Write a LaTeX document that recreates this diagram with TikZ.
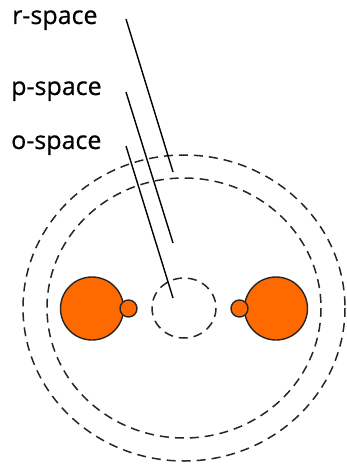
\documentclass[tikz,border=0pt]{standalone}
\usepackage{fontspec}
\setmainfont{Open Sans}
\newfontfamily\labelfont{Open Sans}[FakeBold=0.6]
\usetikzlibrary{positioning}
\definecolor{orbit}{RGB}{255,106,0}

\begin{document}
\begin{tikzpicture}[x=1pt, y=-1pt,
  spacelabel/.style={anchor=base west, inner sep=0pt, font=\labelfont\fontsize{25}{30}\selectfont},
  shell/.style={draw=black!85, dash pattern=on 9pt off 6pt, line width=1.5pt},
  lobe/.style={draw=black!85, fill=orbit, line width=1.4pt},
  pointer/.style={line width=1.4pt}]
  \useasboundingbox (0,0) rectangle (346,465);

  % the three spaces
  \coordinate (centre) at (184,308);
  \draw[shell] (centre) ellipse [x radius=161, y radius=153];
  \draw[shell] (centre) ellipse [x radius=137, y radius=130];
  \draw[shell] (centre) ellipse [x radius=32, y radius=30];

  % orbitals
  \draw[lobe] (92,308.5) circle [radius=31.5];
  \draw[lobe] (128.5,308.5) circle [radius=8.5];
  \draw[lobe] (276,308.5) circle [radius=31.5];
  \draw[lobe] (239.5,308.5) circle [radius=8.5];

  % labels
  \node[spacelabel] (r) at (12,24) {r-space};
  \node[spacelabel] (p) at (11,95) {p-space};
  \node[spacelabel] (o) at (11,149) {o-space};

  \coordinate (rtop) at (126,19);
  \coordinate (rend) at (173,172);
  \coordinate (ptop) at (126,92);
  \coordinate (pend) at (173,243);
  \coordinate (otop) at (126,146);
  \coordinate (oend) at (173,298);

  \draw[pointer] (rtop) -- (rend);
  \draw[pointer] (ptop) -- (pend);
  \draw[pointer] (otop) -- (oend);
\end{tikzpicture}
\end{document}
